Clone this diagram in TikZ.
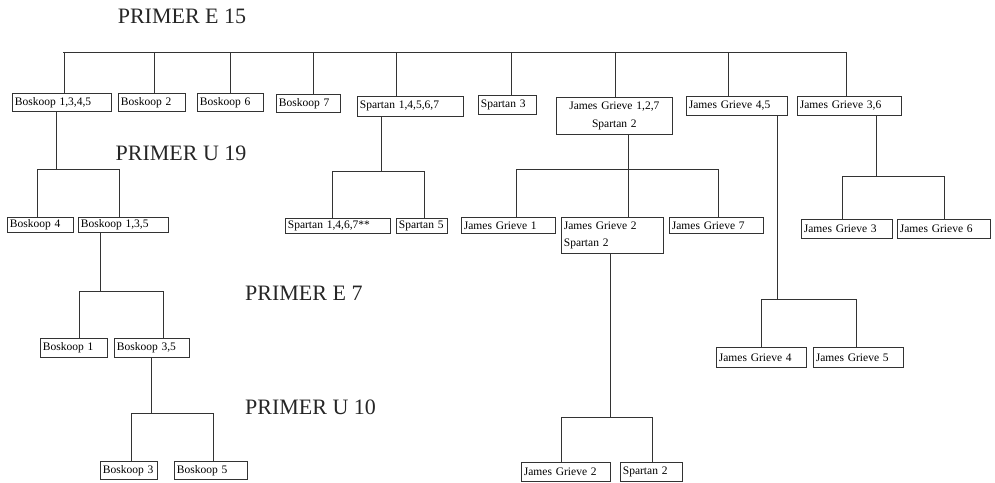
\documentclass[tikz,border=0pt]{standalone}
\usepackage{fontspec}
\setmainfont{Liberation Serif}
\begin{document}
\begin{tikzpicture}[x=1pt,y=-1pt,
  ln/.style={draw=black!80, line width=0.75pt},
  bx/.style={draw=black!80, line width=0.75pt, inner xsep=2.5pt, inner ysep=0pt,
    anchor=north west, font=\fontsize{11.5}{17.5}\selectfont, align=left},
  ttl/.style={font=\fontsize{22}{25}\selectfont, text=black!85, inner sep=0pt}]
\useasboundingbox (0,0) rectangle (995,482);
\newcommand\bx[7][]{\node[bx,#1, minimum width={(#5-#3)*1pt}, minimum height={(#6-#4)*1pt}, text width={(#5-#3)*1pt-5pt}] (#2) at (#3,#4) {#7};}
\newcommand\fork[7]{%
 \coordinate (#1-p) at (#2,#3);
 \coordinate (#1-l) at (#5,#3);
 \coordinate (#1-r) at (#7,#3);
 \draw[ln] (#1-p |- #1.south) -- (#1-p);
 \draw[ln] (#1-l |- #4.north) -- (#1-l) -- (#1-r) -- (#1-r |- #6.north);}
\newcommand\drop[4]{\coordinate (#1) at (#2,#3); \draw[ln] (#1) -- (#1 |- #4.north);}
% titles
\node[ttl] (tE15) at (182,16) {PRIMER E 15};
\node[ttl] (tU19) at (181,153) {PRIMER U 19};
\node[ttl, anchor=west] (tE7) at (245,293) {PRIMER E 7};
\node[ttl, anchor=west] (tU10) at (245,407) {PRIMER U 10};
% row 1
\bx{b1}{12}{93}{111}{111}{Boskoop 1,3,4,5}
\bx{b2}{118}{93}{185}{111}{Boskoop 2}
\bx{b3}{197}{93}{263}{111}{Boskoop 6}
\bx{b4}{276}{94}{340}{112}{Boskoop 7}
\bx{b5}{357}{96}{463}{116}{Spartan 1,4,5,6,7}
\bx{b6}{478}{95}{536}{114}{Spartan 3}
\bx[align=center]{b7}{556}{97}{672}{134}{James Grieve 1,2,7\\Spartan 2}
\bx{b8}{686}{96}{787}{115}{James Grieve 4,5}
\bx{b9}{797}{96}{901}{115}{James Grieve 3,6}
% top bus
\coordinate (busL) at (63,52);
\coordinate (busR) at (846,52);
\draw[ln] (busL) -- (busR);
\drop{t1}{64}{52}{b1}
\drop{t2}{154}{52}{b2}
\drop{t3}{230}{52}{b3}
\drop{t4}{313}{52}{b4}
\drop{t5}{396}{52}{b5}
\drop{t6}{511}{52}{b6}
\drop{t7}{615}{52}{b7}
\drop{t8}{728}{52}{b8}
\drop{t9}{846}{52}{b9}
% row 2
\bx{c1}{7}{217}{73}{232}{Boskoop 4}
\bx{c2}{78}{217}{168}{232}{Boskoop 1,3,5}
\bx{c3}{285}{218}{390}{233}{Spartan 1,4,6,7**}
\bx{c4}{396}{218}{447}{233}{Spartan 5}
\bx{c5}{461}{217}{555}{233}{James Grieve 1}
\bx{c6}{561}{217}{663}{253}{James Grieve 2\\Spartan 2}
\bx{c7}{669}{217}{763}{233}{James Grieve 7}
\bx{c8}{801}{219}{892}{238}{James Grieve 3}
\bx{c9}{897}{219}{990}{238}{James Grieve 6}
\fork{b1}{56}{169}{c1}{37}{c2}{119}
\fork{b5}{381}{171}{c3}{332}{c4}{424}
\fork{b7}{628}{169}{c5}{516}{c7}{718}
\draw[ln] (b7-p) -- (b7-p |- c6.north);
\fork{b9}{876}{176}{c8}{842}{c9}{944}
% row 3
\bx{d1}{40}{338}{107}{357}{Boskoop 1}
\bx{d2}{114}{338}{189}{357}{Boskoop 3,5}
\bx{d3}{716}{347}{806}{367}{James Grieve 4}
\bx{d4}{813}{347}{903}{367}{James Grieve 5}
\fork{c2}{100}{291}{d1}{79}{d2}{163}
\fork{b8}{777}{299}{d3}{761}{d4}{856}
% row 4
\bx{e1}{100}{461}{157}{479}{Boskoop 3}
\bx{e2}{174}{461}{247}{479}{Boskoop 5}
\bx{e3}{521}{462}{610}{481}{James Grieve 2}
\bx{e4}{620}{462}{682}{481}{Spartan 2}
\fork{d2}{151}{413}{e1}{131}{e2}{213}
\fork{c6}{610}{417}{e3}{561}{e4}{652}
\end{tikzpicture}
\end{document}
